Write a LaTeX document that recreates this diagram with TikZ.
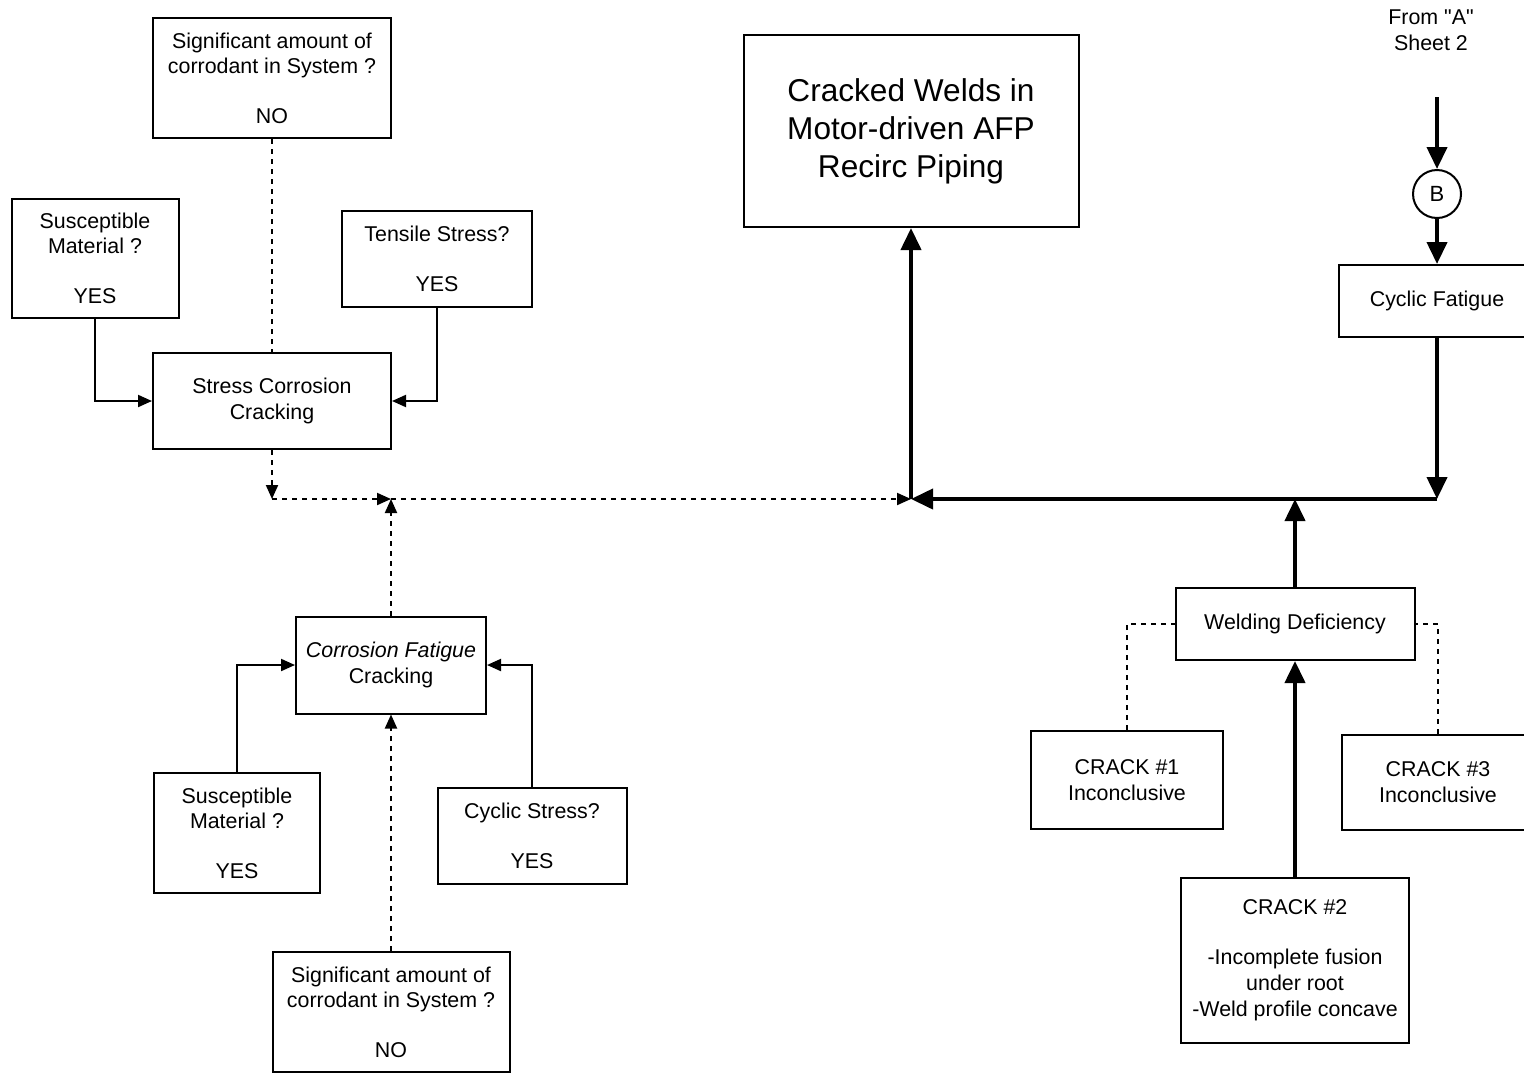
\documentclass[tikz,border=0pt]{standalone}
\usepackage{fontspec}
\setmainfont{Liberation Sans}[Ligatures=TeXOff]
\usepackage{tikz}
\usetikzlibrary{arrows.meta}

\begin{document}
\begin{tikzpicture}[x=0.5pt, y=-0.5pt,
    box/.style={draw, line width=1pt, inner sep=2pt, align=center, font={\fontsize{10.7pt}{12.8pt}\selectfont}},
    thinarrow/.style={line width=1pt, -{Triangle[length=7pt, width=6pt]}},
    thickarrow/.style={line width=2pt, -{Triangle[length=11pt, width=10pt]}},
    dashline/.style={line width=1pt, dash pattern=on 2.5pt off 2.5pt},
    dasharrow/.style={dashline, -{Triangle[length=7pt, width=6pt]}}]
        \useasboundingbox (0,0) rectangle (1524,1072);

        % Stress corrosion branch
        \node[box, minimum width=119pt, minimum height=60pt] (sigtop) at (272,78) {Significant amount of\\corrodant in System ?\\[12pt]NO};
        \node[box, minimum width=83.5pt, minimum height=59.5pt] (susctop) at (95,258) {Susceptible\\Material ?\\[12pt]YES};
        \node[box, minimum width=95pt, minimum height=48pt] (tensile) at (437,259) {Tensile Stress?\\[12.5pt]YES};
        \node[box, minimum width=119pt, minimum height=48pt] (scc) at (272,401) {Stress Corrosion\\Cracking};

        % Corrosion fatigue branch
        \node[box, minimum width=95pt, minimum height=48.5pt] (cfc) at (391,665) {\textit{Corrosion Fatigue}\\Cracking};
        \node[box, minimum width=83pt, minimum height=60pt] (suscbot) at (237,833) {Susceptible\\Material ?\\[12pt]YES};
        \node[box, minimum width=94.5pt, minimum height=48pt] (cycstress) at (532,836) {Cyclic Stress?\\[12.5pt]YES};
        \node[box, minimum width=118.5pt, minimum height=60pt] (sigbot) at (391,1012) {Significant amount of\\corrodant in System ?\\[12pt]NO};

        % Top event
        \node[box, minimum width=167.5pt, minimum height=96pt, font={\fontsize{15.8pt}{19pt}\selectfont}] (top) at (911,131) {Cracked Welds in\\Motor-driven AFP\\Recirc Piping};

        % Cyclic fatigue branch
        \node[align=center, font={\fontsize{10.7pt}{12.8pt}\selectfont}] (fromA) at (1431,30) {From "A"\\Sheet 2};
        \coordinate (fromAend) at (1437,97);
        \node[draw, circle, line width=1pt, minimum size=24pt, inner sep=0pt, font={\fontsize{11pt}{13pt}\selectfont}] (conB) at (1437,194) {B};
        \node[box, minimum width=98pt, minimum height=36pt] (cycfat) at (1437,301) {Cyclic Fatigue};

        % Welding deficiency branch
        \node[box, minimum width=119.5pt, minimum height=36pt] (weld) at (1295,624) {Welding Deficiency};
        \node[box, minimum width=96pt, minimum height=49pt] (crackone) at (1127,780) {CRACK \#1\\Inconclusive};
        \node[box, minimum width=96pt, minimum height=47.5pt] (crackthree) at (1438,782) {CRACK \#3\\Inconclusive};
        \node[box, minimum width=114pt, minimum height=82.5pt] (cracktwo) at (1295,960) {CRACK \#2\\[12.5pt]-Incomplete fusion\\under root\\-Weld profile concave};

        % junctions
        \coordinate (jscc) at (272,499);
        \coordinate (jcfc) at (391,499);
        \coordinate (jtop) at (911,499);
        \coordinate (jweld) at (1295,499);
        \coordinate (jcyc) at (1437,499);

        % connectors
        \draw[dashline] (sigtop.south) -- (scc.north);
        \draw[thinarrow] (susctop.south) |- (scc.west);
        \draw[thinarrow] (tensile.south) |- (scc.east);
        \draw[dasharrow] (scc.south) -- (jscc);
        \draw[dasharrow] (jscc) -- (jcfc);
        \draw[dasharrow] (cfc.north) -- (jcfc);
        \draw[dasharrow] (jcfc) -- (jtop);
        \draw[thinarrow] (suscbot.north) |- (cfc.west);
        \draw[thinarrow] (cycstress.north) |- (cfc.east);
        \draw[dasharrow] (sigbot.north) -- (cfc.south);

        \draw[thickarrow] (jtop) -- (top.south);
        \draw[thickarrow] (fromAend) -- (conB.north);
        \draw[thickarrow] (conB.south) -- (cycfat.north);
        \draw[thickarrow] (cycfat.south) -- (jcyc);
        \draw[thickarrow] (jcyc) -- (jtop);
        \draw[thickarrow] (weld.north) -- (jweld);
        \draw[thickarrow] (cracktwo.north) -- (weld.south);
        \draw[dashline] (crackone.north) |- (weld.west);
        \draw[dashline] (crackthree.north) |- (weld.east);
    \end{tikzpicture}
\end{document}
